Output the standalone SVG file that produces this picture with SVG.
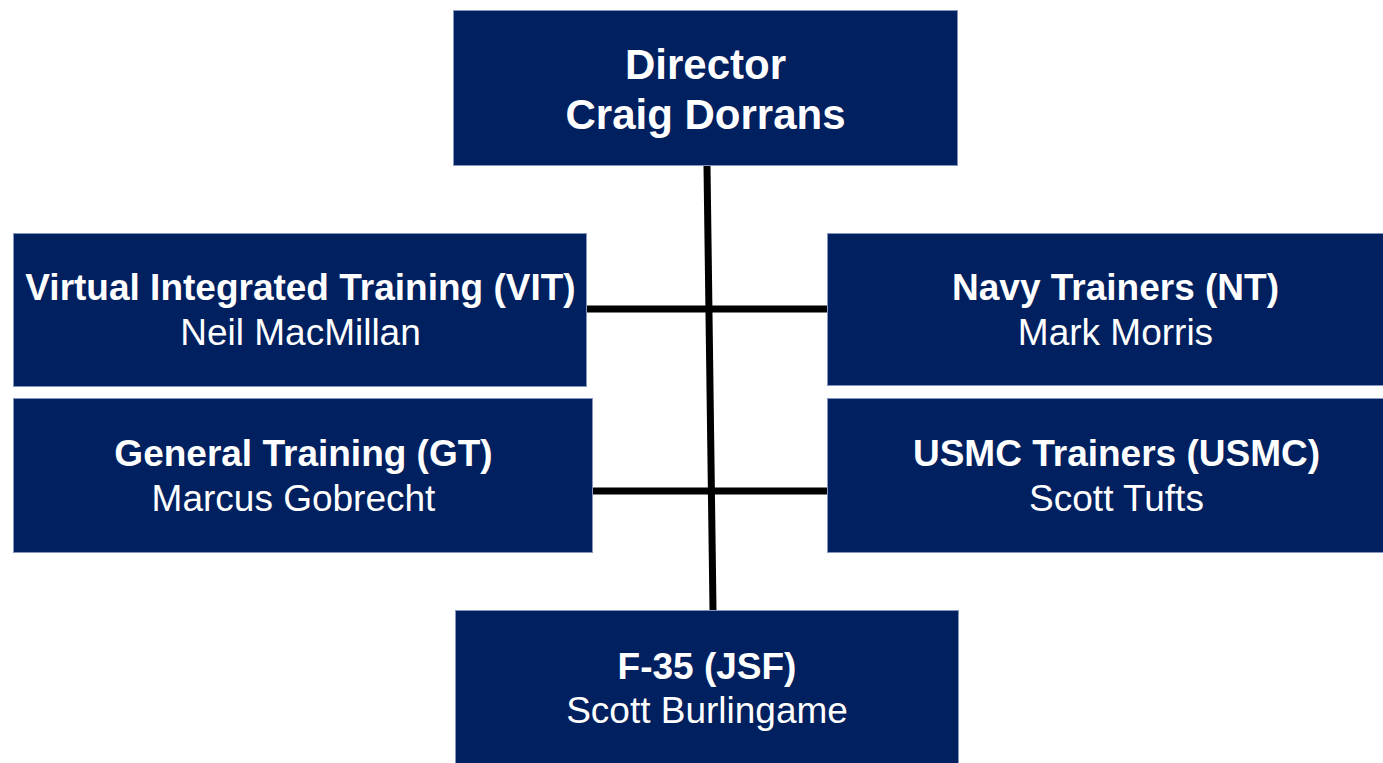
<svg xmlns="http://www.w3.org/2000/svg" width="1383" height="763" viewBox="0 0 1383 763">
<style>
.box{fill:#002060;stroke:#8395c0;stroke-width:1}
.t{fill:#ffffff;font-family:"Liberation Sans",Arial,sans-serif;text-anchor:middle}
.b{font-weight:bold;font-size:37px}
.r{font-size:37px}
.big{font-weight:bold;font-size:42px}
.con{stroke:#000000;stroke-width:7;fill:none}
</style>
<rect width="1383" height="763" fill="#ffffff"/>
<g id="connectors">
<line class="con" x1="707" y1="166" x2="713" y2="610"/>
<line class="con" x1="587" y1="309" x2="827" y2="309"/>
<line class="con" x1="593" y1="491" x2="828" y2="491"/>
</g>
<g id="director">
<rect class="box" x="453.5" y="10.5" width="504" height="155"/>
<text class="t big" x="705.5" y="79">Director</text>
<text class="t big" x="705.5" y="129">Craig Dorrans</text>
</g>
<g id="vit">
<rect class="box" x="13.5" y="233.5" width="573" height="153"/>
<text class="t b" x="300.5" y="299.5">Virtual Integrated Training (VIT)</text>
<text class="t r" x="300.5" y="345">Neil MacMillan</text>
</g>
<g id="nt">
<rect class="box" x="827.5" y="233.5" width="575" height="152"/>
<text class="t b" x="1115.5" y="299.5">Navy Trainers (NT)</text>
<text class="t r" x="1115.5" y="345">Mark Morris</text>
</g>
<g id="gt">
<rect class="box" x="13.5" y="398.5" width="579" height="154"/>
<text class="t b" x="303.5" y="465.5">General Training (GT)</text>
<text class="t r" x="293.5" y="510.5">Marcus Gobrecht</text>
</g>
<g id="usmc">
<rect class="box" x="827.5" y="398.5" width="577" height="154"/>
<text class="t b" x="1116.5" y="465.5">USMC Trainers (USMC)</text>
<text class="t r" x="1116.5" y="510.5">Scott Tufts</text>
</g>
<g id="f35">
<rect class="box" x="455.5" y="610.5" width="503" height="160"/>
<text class="t b" x="707" y="678.5">F-35 (JSF)</text>
<text class="t r" x="707" y="723">Scott Burlingame</text>
</g>
</svg>
